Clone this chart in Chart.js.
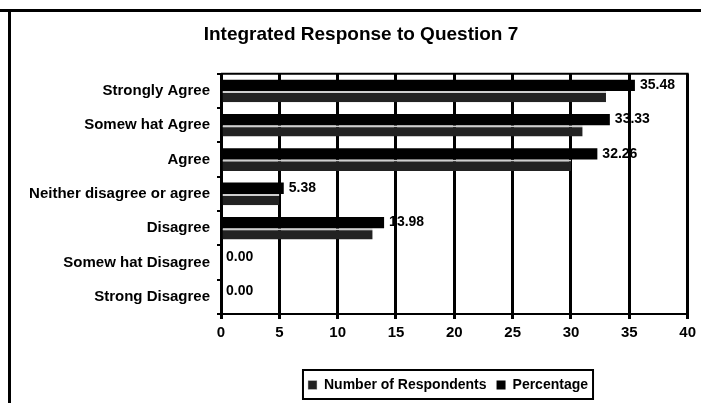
<!DOCTYPE html>
<html>
<head>
<meta charset="utf-8">
<script src="https://cdn.jsdelivr.net/npm/chart.js@4/dist/chart.umd.min.js"></script>
<style>
  html, body { margin: 0; padding: 0; background: #fff; }
  #wrap { width: 701px; height: 403px; position: relative; }
</style>
</head>
<body>
<div id="wrap"><canvas id="myChart" width="701" height="403"></canvas></div>
<script>
// data (right part of the picture is very noisy)
var categories = ['Strongly Agree', 'Somew hat Agree', 'Agree', 'Neither disagree or agree',
  'Disagree', 'Somew hat Disagree', 'Strong Disagree'];
var respondents = [33, 31, 30, 5, 13, 0, 0];
var percentage = [35.48, 33.33, 32.26, 5.38, 13.98, 0.00, 0.00];
var xTicks = [0, 5, 10, 15, 20, 25, 30, 35, 40];

var FONT = "'Liberation Sans', Arial, sans-serif";

var frame = {
  id: 'frame',
  afterLayout: function (chart) {
    // title and legend box sit right of centre in the original
    chart.titleBlock.left += 17;
    chart.titleBlock.right += 17;
    chart.legend.left += 104;
    chart.legend.right += 104;
    chart.legend.top += 2;
    chart.legend.bottom += 2;
  },
  beforeDraw: function (chart) {
    var c = chart.ctx;
    c.save();
    c.fillStyle = '#fff';
    c.fillRect(0, 0, chart.width, chart.height);
    c.fillStyle = '#000';
    c.fillRect(0, 9, chart.width, 3);
    c.fillRect(8, 9, 3, chart.height - 9);
    c.restore();
  },
  afterDatasetsDraw: function (chart) {
    var c = chart.ctx;
    var meta = chart.getDatasetMeta(0);
    c.save();
    c.fillStyle = '#000';
    c.font = 'bold 14px ' + FONT;
    c.textBaseline = 'middle';
    c.textAlign = 'left';
    meta.data.forEach(function (bar, i) {
      c.fillText(percentage[i].toFixed(2), bar.x + 5, bar.y);
    });
    c.restore();
  },
  afterDraw: function (chart) {
    var a = chart.chartArea, c = chart.ctx;
    c.save();
    c.strokeStyle = '#000';
    c.lineWidth = 2;
    c.beginPath();
    c.moveTo(a.left, a.top);
    c.lineTo(a.right, a.top);
    c.lineTo(a.right, a.bottom);
    c.stroke();
    var hb = chart.legend.legendHitBoxes;
    if (hb && hb.length) {
      var l = Infinity, r = -Infinity, t = Infinity, b = -Infinity;
      hb.forEach(function (h) {
        l = Math.min(l, h.left); r = Math.max(r, h.left + h.width);
        t = Math.min(t, h.top); b = Math.max(b, h.top + h.height);
      });
      c.lineWidth = 2;
      c.strokeRect(l - 5, t - 8, r - l + 10, b - t + 15);
    }
    c.restore();
  }
};

var ctx = document.getElementById('myChart').getContext('2d');
new Chart(ctx, {
  type: 'bar',
  data: {
    labels: categories,
    datasets: [{
      label: 'Percentage',
      data: percentage,
      backgroundColor: '#000',
      borderWidth: 0
    }, {
      label: 'Number of Respondents',
      data: respondents,
      backgroundColor: '#222',
      borderColor: '#cfcfcf',
      borderWidth: {top: 2, right: 0, bottom: 0, left: 0},
      borderSkipped: false
    }]
  },
  options: {
    indexAxis: 'y',
    responsive: false,
    animation: false,
    layout: {padding: {left: 0, right: 13, top: 0, bottom: 3}},
    datasets: {bar: {barPercentage: 1, categoryPercentage: 0.66}},
    scales: {
      x: {
        min: 0, max: 40,
        afterBuildTicks: function (s) { s.ticks = xTicks.map(function (v) { return {value: v}; }); },
        afterFit: function (s) { s.height = 52; },
        grid: {color: '#000', lineWidth: 3, tickLength: 5, drawTicks: true},
        border: {display: true, color: '#000', width: 2},
        ticks: {color: '#000', font: {family: FONT, size: 15, weight: 'bold'}, padding: 5, maxRotation: 0}
      },
      y: {
        afterFit: function (s) { s.width = 221; },
        grid: {display: true, drawOnChartArea: false, drawTicks: true, tickLength: 4, color: '#000', lineWidth: 2, offset: true},
        border: {display: true, color: '#000', width: 2},
        ticks: {color: '#000', font: {family: FONT, size: 15, weight: 'bold'}, padding: 7}
      }
    },
    plugins: {
      title: {
        display: true,
        text: 'Integrated Response to Question 7',
        color: '#000',
        font: {family: FONT, size: 19, weight: 'bold'},
        padding: {top: 23, bottom: 28}
      },
      legend: {
        position: 'bottom',
        reverse: true,
        labels: {
          color: '#000',
          font: {family: FONT, size: 14, weight: 'bold'},
          boxWidth: 9, boxHeight: 9, padding: 10
        }
      },
      tooltip: {enabled: false}
    }
  },
  plugins: [frame]
});
</script>
</body>
</html>
